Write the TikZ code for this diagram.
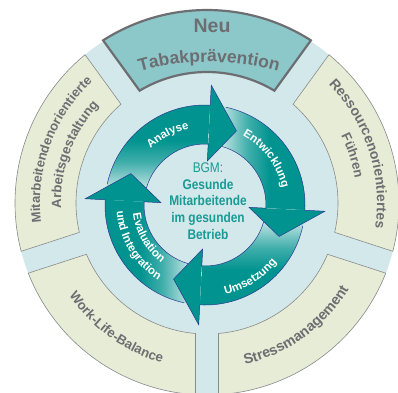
\documentclass[tikz,border=0pt]{standalone}
\usepackage{fontspec}
\setmainfont{Liberation Sans}
\newfontfamily\narrowsans[FakeStretch=0.85]{Liberation Sans}
\usetikzlibrary{decorations.text}

\definecolor{bgmteal}{HTML}{00938F}
\definecolor{paleblue}{HTML}{D3E8EA}
\definecolor{beige}{HTML}{E6ECD6}
\definecolor{tabakfill}{HTML}{8CC8CA}
\definecolor{labelgray}{HTML}{6D6E71}
\definecolor{navyline}{HTML}{2B3990}
\definecolor{bgmtext}{HTML}{1A9A96}

% the path box is 25bp..75bp of the shading
\pgfdeclarehorizontalshading{tailfade}{100bp}{color(0bp)=(white); color(25bp)=(white); color(33bp)=(bgmteal!30!white); color(45bp)=(bgmteal!75!white); color(56bp)=(bgmteal); color(100bp)=(bgmteal)}

\newcommand{\seglabel}[1]{\color{labelgray}\bfseries\fontsize{#1}{#1}\selectfont}
\newcommand{\arrowlabel}{\color{white}\bfseries\fontsize{11.5}{14}\selectfont}

\tikzset{
  segment/.style={fill=beige, draw=labelgray!80, line width=0.6pt},
  newsegment/.style={fill=tabakfill, draw=labelgray, line width=2.2pt},
  arrowbody/.style={shading=tailfade, shading angle=#1},
  arrowhead/.style={fill=bgmteal},
  arrowedge/.style={draw=navyline, line width=0.5pt},
  curvedtext/.style={decorate, decoration={text along path, text align=center, text={#1}}},
}

\begin{document}
\begin{tikzpicture}[x=1pt, y=1pt]
\useasboundingbox (-207,-189) rectangle (191,203);
\clip (-207,-189) rectangle (191,203);

% outer disk
\fill[paleblue] (0,0) circle (192);

% outer ring of fields
\draw[segment] (50.57:192) arc[start angle=50.57, end angle=-14.57, radius=192] -- (-12.96:131) arc[start angle=-12.96, end angle=48.96, radius=131] -- cycle;
\draw[segment] (338.57:192) arc[start angle=338.57, end angle=273.43, radius=192] -- (275.04:131) arc[start angle=275.04, end angle=336.96, radius=131] -- cycle;
\draw[segment] (266.57:192) arc[start angle=266.57, end angle=201.43, radius=192] -- (203.04:131) arc[start angle=203.04, end angle=264.96, radius=131] -- cycle;
\draw[segment] (194.57:192) arc[start angle=194.57, end angle=129.43, radius=192] -- (131.04:131) arc[start angle=131.04, end angle=192.96, radius=131] -- cycle;
\draw[newsegment] (122.57:193) arc[start angle=122.57, end angle=57.43, radius=193] -- (59.04:131) arc[start angle=59.04, end angle=120.96, radius=131] -- cycle;

% field labels
\node[text=labelgray, font=\bfseries\fontsize{19.5}{19.5}\selectfont] (neu) at (5,177) {Neu};
\path[curvedtext={|\seglabel{17.5}|Tabakprävention}] (2,-109) ++(110:250) arc[start angle=110, end angle=70, radius=250];
\path[curvedtext={|\seglabel{13}|Mitarbeitendenorientierte}] (200:167) arc[start angle=200, end angle=120, radius=167];
\path[curvedtext={|\seglabel{13.3}|Arbeitsgestaltung}] (200:146) arc[start angle=200, end angle=120, radius=146];
\path[curvedtext={|\seglabel{14}|Ressourcenorientiertes}] (60:170) arc[start angle=60, end angle=-24, radius=170];
\path[curvedtext={|\seglabel{13.2}|Führen}] (60:150) arc[start angle=60, end angle=-24, radius=150];
\path[curvedtext={|\seglabel{13.3}|Work-Life-Balance}] (194:166) arc[start angle=194, end angle=274, radius=166];
\path[curvedtext={|\seglabel{14.3}|Stressmanagement}] (266:166) arc[start angle=266, end angle=346, radius=166];

% cycle of arrows
\begin{scope}[shift={(-2,-2)}]
\shade[arrowbody=90] (177:100) arc[start angle=177, end angle=87, radius=100] -- (87:61) arc[start angle=87, end angle=177, radius=61] -- cycle;
\shade[arrowbody=0] (87:100) arc[start angle=87, end angle=-3, radius=100] -- (-3:61) arc[start angle=-3, end angle=87, radius=61] -- cycle;
\shade[arrowbody=-90] (-3:100) arc[start angle=-3, end angle=-93, radius=100] -- (-93:61) arc[start angle=-93, end angle=-3, radius=61] -- cycle;
\shade[arrowbody=180] (-93:100) arc[start angle=-93, end angle=-183, radius=100] -- (-183:61) arc[start angle=-183, end angle=-93, radius=61] -- cycle;

\fill[arrowhead] (87:100) -- (87:120) -- (67:80.5) -- (87:44) -- (87:61) -- cycle;
\fill[arrowhead] (-3:100) -- (-3:120) -- (-23:80.5) -- (-3:44) -- (-3:61) -- cycle;
\fill[arrowhead] (-93:100) -- (-93:120) -- (-113:80.5) -- (-93:44) -- (-93:61) -- cycle;
\fill[arrowhead] (177:100) -- (177:120) -- (157:80.5) -- (177:44) -- (177:61) -- cycle;

\draw[arrowedge] (168:100) arc[start angle=168, end angle=87, radius=100] -- (87:120) -- (67:80.5) -- (87:44) -- (87:61) arc[start angle=87, end angle=164, radius=61];
\draw[arrowedge] (78:100) arc[start angle=78, end angle=-3, radius=100] -- (-3:120) -- (-23:80.5) -- (-3:44) -- (-3:61) arc[start angle=-3, end angle=74, radius=61];
\draw[arrowedge] (-12:100) arc[start angle=-12, end angle=-93, radius=100] -- (-93:120) -- (-113:80.5) -- (-93:44) -- (-93:61) arc[start angle=-93, end angle=-16, radius=61];
\draw[arrowedge] (-102:100) arc[start angle=-102, end angle=-183, radius=100] -- (177:120) -- (157:80.5) -- (177:44) -- (177:61) arc[start angle=-183, end angle=-106, radius=61];

\path[curvedtext={|\arrowlabel|Analyse}] (158:78) arc[start angle=158, end angle=78, radius=78];
\path[curvedtext={|\arrowlabel|Entwicklung}] (77:79) arc[start angle=77, end angle=-3, radius=79];
\path[curvedtext={|\arrowlabel|Umsetzung}] (-98:92) arc[start angle=-98, end angle=-18, radius=92];
\path[curvedtext={|\arrowlabel|Evaluation}] (170:72.5) arc[start angle=170, end angle=250, radius=72.5];
\path[curvedtext={|\arrowlabel|und Integration}] (171:88.5) arc[start angle=171, end angle=251, radius=88.5];
\end{scope}

% centre text
\node[text=bgmtext, align=center, font=\narrowsans\fontsize{14}{16.75}\selectfont] (bgm) at (1,2) {BGM:\\\textbf{Gesunde}\\\textbf{Mitarbeitende}\\\textbf{im gesunden}\\\textbf{Betrieb}};
\end{tikzpicture}
\end{document}
